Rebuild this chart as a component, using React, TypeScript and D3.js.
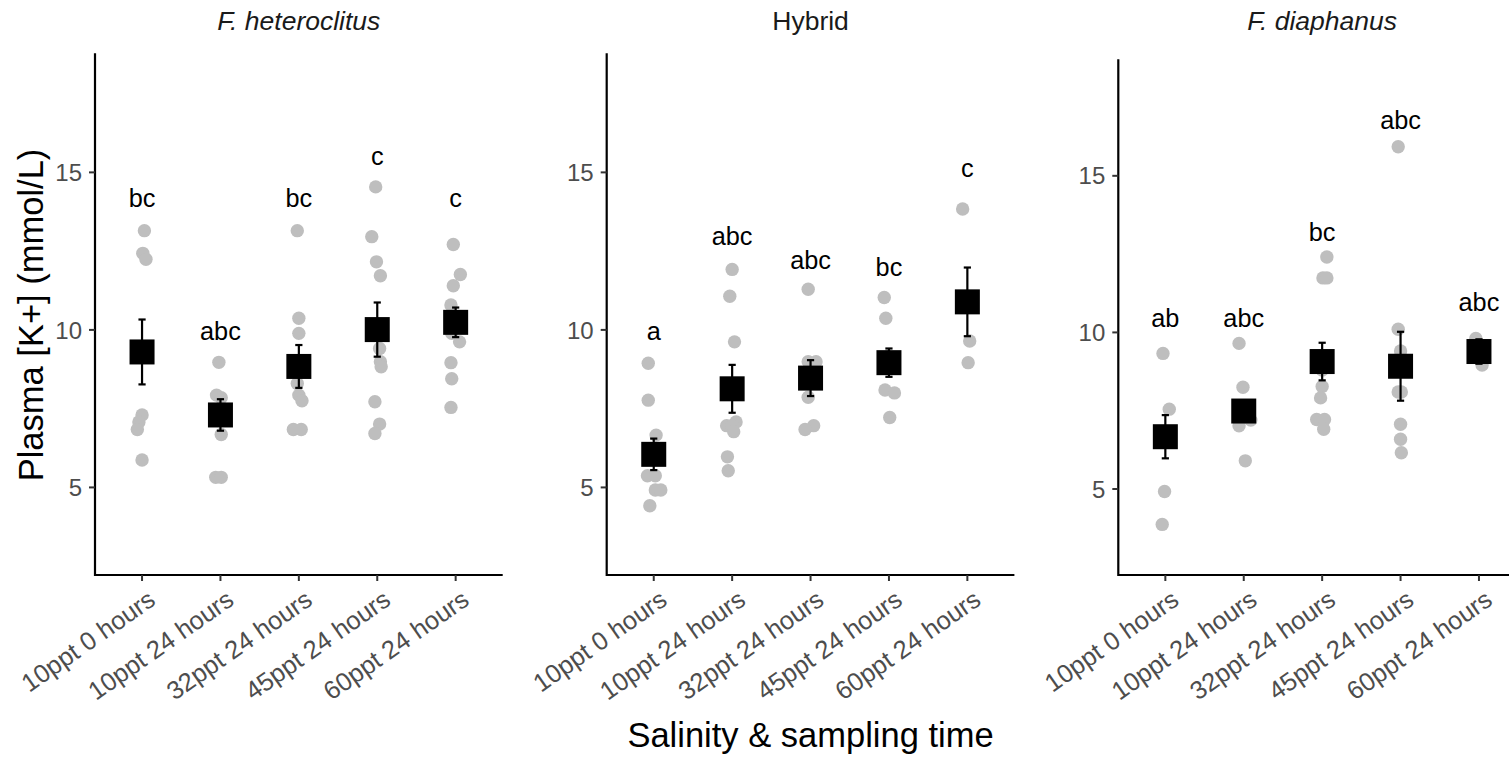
import React from "react";
import * as d3 from "d3";

const categories = ["10ppt 0 hours", "10ppt 24 hours", "32ppt 24 hours", "45ppt 24 hours", "60ppt 24 hours"];
const panelTitles = ["F. heteroclitus", "Hybrid", "F. diaphanus"];
const panelItalic = [true, false, true];
const yTicks = [5, 10, 15];

// individual fish values (mmol/L) per panel, per category, with horizontal jitter (category units)
const heteroPoints = [
  [13.15, 12.43, 12.24, 7.3, 7.08, 6.84, 5.87],
  [8.97, 7.93, 7.85, 7.3, 6.68, 5.32, 5.32],
  [13.15, 10.37, 9.89, 8.3, 7.93, 7.75, 6.84, 6.84],
  [14.54, 12.96, 12.16, 11.72, 9.41, 8.99, 8.83, 7.72, 7.01, 6.71],
  [12.71, 11.76, 11.4, 10.79, 9.89, 9.62, 8.96, 8.45, 7.54],
];
const heteroJitter = [
  [0.03, 0.01, 0.05, 0, -0.04, -0.06, 0],
  [-0.02, -0.05, 0.01, 0, 0.01, -0.06, 0.01],
  [-0.02, 0, 0, -0.02, 0, 0.04, -0.07, 0.03],
  [-0.02, -0.07, -0.01, 0.04, 0.03, 0.04, 0.05, -0.03, 0.03, -0.03],
  [-0.03, 0.06, -0.03, -0.06, -0.05, 0.05, -0.06, -0.05, -0.06],
];
const hybridPoints = [
  [8.94, 7.77, 6.66, 5.37, 5.37, 4.92, 4.92, 4.42],
  [11.92, 11.07, 9.62, 7.08, 6.96, 6.96, 6.77, 5.97, 5.53],
  [11.29, 8.99, 8.99, 7.86, 6.96, 6.84],
  [11.03, 10.37, 9.15, 8.09, 8.0, 7.22],
  [13.84, 9.65, 8.96],
];
const hybridJitter = [
  [-0.07, -0.07, 0.03, -0.08, 0.02, 0.02, 0.09, -0.05],
  [0, -0.03, 0.03, 0.05, -0.07, 0, 0.02, -0.06, -0.05],
  [-0.03, -0.03, 0.07, -0.03, 0.04, -0.07],
  [-0.06, -0.04, -0.01, -0.05, 0.07, 0.01],
  [-0.06, 0.03, 0.01],
];
const diaphPoints = [
  [9.33, 7.55, 4.92, 3.87],
  [9.65, 8.25, 7.2, 7.02, 5.9],
  [12.41, 11.74, 11.74, 8.8, 8.27, 7.91, 7.22, 7.22, 6.91],
  [15.93, 10.1, 9.41, 8.1, 8.1, 7.07, 6.59, 6.16],
  [9.81, 8.96],
];
const diaphJitter = [
  [-0.03, 0.05, -0.01, -0.04],
  [-0.06, -0.01, 0.09, -0.06, 0.02],
  [0.06, 0.01, 0.06, 0, 0, -0.02, -0.07, 0.03, 0.02],
  [-0.03, -0.03, 0, -0.03, 0.01, 0, 0, 0.01],
  [-0.04, 0.04],
];

// group means and standard errors
const heteroMeans = [9.3, 7.3, 8.84, 10.01, 10.24];
const heteroSE = [1.03, 0.5, 0.68, 0.86, 0.47];
const hybridMeans = [6.05, 8.13, 8.47, 8.96, 10.89];
const hybridSE = [0.5, 0.76, 0.57, 0.45, 1.09];
const diaphMeans = [6.67, 7.49, 9.07, 8.92, 9.39];
const diaphSE = [0.69, 0.3, 0.6, 1.1, 0.39];

// significance letters and their y positions (mmol/L)
const heteroLetters = ["bc", "abc", "bc", "c", "c"];
const heteroLetterY = [13.91, 9.68, 13.91, 15.23, 13.91];
const hybridLetters = ["a", "abc", "abc", "bc", "c"];
const hybridLetterY = [9.68, 12.69, 11.92, 11.71, 14.84];
const diaphLetters = ["ab", "abc", "bc", "abc", "abc"];
const diaphLetterY = [10.18, 10.18, 12.93, 16.51, 10.69];

const yDomainMin = [2.22, 2.22, 2.255];
const yDomainMax = [18.78, 18.78, 18.72];

const panels = [
  { points: heteroPoints, jitter: heteroJitter, means: heteroMeans, se: heteroSE, letters: heteroLetters, letterY: heteroLetterY },
  { points: hybridPoints, jitter: hybridJitter, means: hybridMeans, se: hybridSE, letters: hybridLetters, letterY: hybridLetterY },
  { points: diaphPoints, jitter: diaphJitter, means: diaphMeans, se: diaphSE, letters: diaphLetters, letterY: diaphLetterY },
];

const W = 1509;
const H = 757;
const panelLeft = [95, 606.7, 1118.3];
const panelTop = [53.3, 53.3, 59.3];
const panelBottom = 575;
const panelWidth = 407.7;
const FONT = "'Liberation Sans', Arial, Helvetica, sans-serif";
const TICK_FS = 24;

function Panel({ i }: { i: number }) {
  const p = panels[i];
  const left = panelLeft[i];
  const x = d3.scalePoint<string>().domain(categories).range([left, left + panelWidth]).padding(0.6);
  const y = d3.scaleLinear().domain([yDomainMin[i], yDomainMax[i]]).range([panelBottom, panelTop[i]]);
  const step = x.step();
  const sq = 25;
  const cap = 3.6;
  return (
    <g>
      <text
        x={left + panelWidth / 2}
        y={29.5}
        textAnchor="middle"
        fontSize={26.5}
        fontStyle={panelItalic[i] ? "italic" : "normal"}
        fill="#1a1a1a"
        fontFamily={FONT}
      >
        {panelTitles[i]}
      </text>
      {/* points */}
      {categories.map((c, ci) =>
        p.points[ci].map((v, k) => (
          <circle key={`${ci}-${k}`} cx={(x(c) as number) + p.jitter[ci][k] * step} cy={y(v)} r={6.7} fill="#BEBEBE" />
        ))
      )}
      {/* error bars */}
      {categories.map((c, ci) => {
        const cx = x(c) as number;
        const hi = y(p.means[ci] + p.se[ci]);
        const lo = y(p.means[ci] - p.se[ci]);
        return (
          <g key={`e${ci}`} stroke="black" strokeWidth={2.2}>
            <line x1={cx} x2={cx} y1={hi} y2={lo} />
            <line x1={cx - cap} x2={cx + cap} y1={hi} y2={hi} />
            <line x1={cx - cap} x2={cx + cap} y1={lo} y2={lo} />
          </g>
        );
      })}
      {/* means */}
      {categories.map((c, ci) => (
        <rect key={`m${ci}`} x={(x(c) as number) - sq / 2} y={y(p.means[ci]) - sq / 2} width={sq} height={sq} fill="black" />
      ))}
      {/* letters */}
      {categories.map((c, ci) => (
        <text key={`l${ci}`} x={x(c) as number} y={y(p.letterY[ci])} textAnchor="middle" fontSize={25.3} fill="black" fontFamily={FONT}>
          {p.letters[ci]}
        </text>
      ))}
      {/* axes */}
      <path d={`M${left},${panelTop[i]}V${panelBottom}H${left + panelWidth}`} fill="none" stroke="black" strokeWidth={2.2} />
      {yTicks.map((t) => (
        <g key={`yt${t}`}>
          <line x1={left - 6} x2={left} y1={y(t)} y2={y(t)} stroke="#333" strokeWidth={2} />
          <text x={left - 13} y={y(t)} dy="0.36em" textAnchor="end" fontSize={TICK_FS} fill="#4D4D4D" fontFamily={FONT}>
            {t}
          </text>
        </g>
      ))}
      {categories.map((c) => {
        const cx = x(c) as number;
        return (
          <g key={`xt${c}`}>
            <line x1={cx} x2={cx} y1={panelBottom} y2={panelBottom + 6} stroke="#333" strokeWidth={2} />
            <text
              transform={`translate(${cx + 15},${603.5}) rotate(-35)`}
              textAnchor="end"
              fontSize={25.5}
              fill="#4D4D4D"
              fontFamily={FONT}
            >
              {c}
            </text>
          </g>
        );
      })}
    </g>
  );
}

export default function App() {
  return (
    <svg width={W} height={H} style={{ position: "absolute", left: 0, top: 0, background: "white" }}>
      <rect width={W} height={H} fill="white" />
      {panels.map((_, i) => (
        <Panel key={i} i={i} />
      ))}
      <text transform={`translate(42.5,315) rotate(-90)`} textAnchor="middle" fontSize={34.5} fill="black" fontFamily={FONT}>
        Plasma [K+] (mmol/L)
      </text>
      <text x={810.5} y={746.5} textAnchor="middle" fontSize={34.5} fill="black" fontFamily={FONT}>
        Salinity &amp; sampling time
      </text>
    </svg>
  );
}
